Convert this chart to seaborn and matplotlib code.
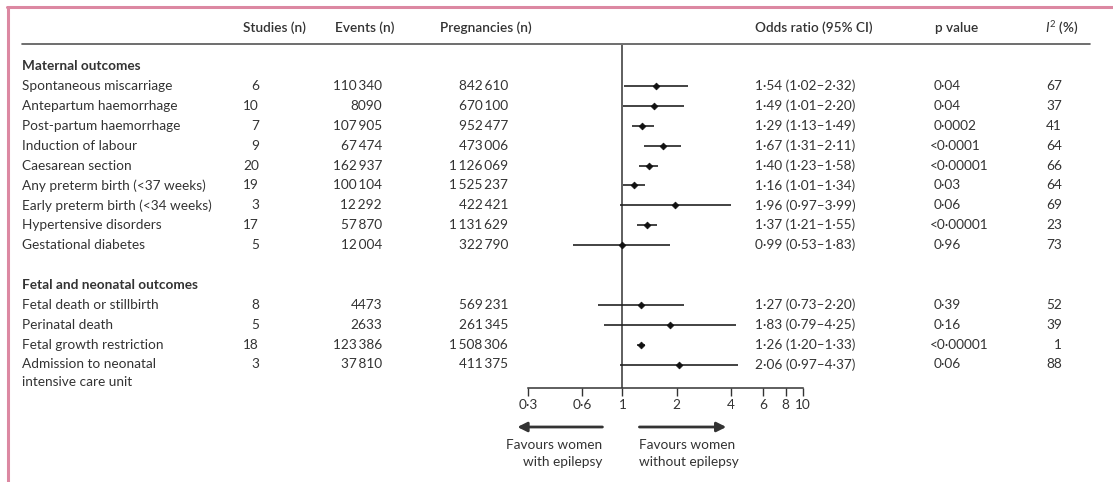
import matplotlib
matplotlib.use('AGG')
import matplotlib.pyplot as plt
from matplotlib.transforms import blended_transform_factory
from matplotlib.ticker import NullLocator
from matplotlib.lines import Line2D
import seaborn as sns
from pandas import DataFrame

# data
maternal = ['Spontaneous miscarriage', 'Antepartum haemorrhage', 'Post-partum haemorrhage',
            'Induction of labour', 'Caesarean section', 'Any preterm birth (<37 weeks)',
            'Early preterm birth (<34 weeks)', 'Hypertensive disorders', 'Gestational diabetes']
fetal = ['Fetal death or stillbirth', 'Perinatal death', 'Fetal growth restriction',
         'Admission to neonatal\nintensive care unit']
studies = [6, 10, 7, 9, 20, 19, 3, 17, 5, 8, 5, 18, 3]
events = [110340, 8090, 107905, 67474, 162937, 100104, 12292, 57870, 12004, 4473, 2633, 123386, 37810]
pregnancies = [842610, 670100, 952477, 473006, 1126069, 1525237, 422421, 1131629, 322790,
               569231, 261345, 1508306, 411375]
odds = [1.54, 1.49, 1.29, 1.67, 1.40, 1.16, 1.96, 1.37, 0.99, 1.27, 1.83, 1.26, 2.06]
ci_low = [1.02, 1.01, 1.13, 1.31, 1.23, 1.01, 0.97, 1.21, 0.53, 0.73, 0.79, 1.20, 0.97]
ci_high = [2.32, 2.20, 1.49, 2.11, 1.58, 1.34, 3.99, 1.55, 1.83, 2.20, 4.25, 1.33, 4.37]
p_values = ['0.04', '0.04', '0.0002', '<0.0001', '<0.00001', '0.03', '0.06', '<0.00001', '0.96',
            '0.39', '0.16', '<0.00001', '0.06']
i2 = [67, 37, 41, 64, 66, 64, 69, 23, 73, 52, 39, 1, 88]
ticks = [0.3, 0.6, 1, 2, 4, 6, 8, 10]

sns.set_theme(style='white')
plt.rcParams['font.family'] = ['Lato', 'DejaVu Sans']
plt.rcParams['mathtext.fontset'] = 'custom'
plt.rcParams['mathtext.it'] = 'Lato:italic'
plt.rcParams['mathtext.rm'] = 'Lato'

W, H = 1113, 482
ROW = 19.9
def ry(px):
    return (px - 66) / ROW

TXT = '#333333'
FS = 9.8

# row index: heading 0, maternal 1..9, blank, heading 11, fetal 12..
rows = list(range(1, 1 + len(maternal))) + list(range(12, 12 + len(fetal)))
datos = DataFrame({'outcome': maternal + fetal, 'row': rows, 'OR': odds,
                   'low': ci_low, 'high': ci_high})

fig = plt.figure(figsize=(W / 100, H / 100), dpi=100)
ax = fig.add_axes([528 / W, 0, 275 / W, 1])
ax.patch.set_visible(False)
ax.set_xscale('log')
ax.set_xlim(0.3, 10)
ax.set_ylim(ry(H), ry(0))

ax.hlines(datos['row'], datos['low'], datos['high'], color='#222222', lw=1.2, zorder=2)
sns.scatterplot(data=datos, x='OR', y='row', marker='D', s=12, color='#111111',
                edgecolor='#111111', linewidth=0.5, ax=ax, zorder=3, legend=False)
ax.vlines(1, ry(45), ry(388), color='#333333', lw=1.1, zorder=1)

for s in ['left', 'right', 'top']:
    ax.spines[s].set_visible(False)
ax.spines['bottom'].set_position(('data', ry(388)))
ax.spines['bottom'].set_bounds(0.3, 10)
ax.spines['bottom'].set_color('#333333')
ax.spines['bottom'].set_linewidth(1.1)
ax.set_xticks(ticks)
ax.set_xticklabels([str(t).replace('.', '·') for t in ticks])
ax.xaxis.set_minor_locator(NullLocator())
ax.tick_params(axis='x', direction='out', length=6, width=1.0, color='#333333',
               pad=2, labelsize=FS, labelcolor=TXT, bottom=True)
ax.set_yticks([])
ax.set_xlabel('')
ax.set_ylabel('')

tr = blended_transform_factory(fig.transFigure, ax.transData)
def put(xpx, y, s, ha='left', **kw):
    ax.text(xpx / W, y, s, ha=ha, va='center', transform=tr, fontsize=FS,
            color=TXT, clip_on=False, **kw)

def num(n):
    return f'{n:,}'.replace(',', '\u2009') if n >= 10000 else str(n)

def dot(v):
    return f'{v:.2f}'.replace('.', '·')

# header
hy = ry(28)
put(243, hy, 'Studies (n)', weight='semibold')
put(335, hy, 'Events (n)', weight='semibold')
put(440, hy, 'Pregnancies (n)', weight='semibold')
put(755, hy, 'Odds ratio (95% CI)', weight='semibold')
put(935, hy, 'p value', weight='semibold')
put(1045, hy, r'$I^2$ (%)', weight='semibold')
ax.add_line(Line2D([22 / W, 1090 / W], [ry(44), ry(44)], transform=tr, color='#555555',
                   lw=1.2, clip_on=False))

put(22, 0, 'Maternal outcomes', weight='bold')
put(22, 11, 'Fetal and neonatal outcomes', weight='bold')

for i, r in enumerate(rows):
    lines = datos['outcome'][i].split('\n')
    for k, line in enumerate(lines):
        put(22, r + k * 0.9, line)
    put(259, r, str(studies[i]), ha='right')
    put(382, r, num(events[i]), ha='right')
    put(508, r, num(pregnancies[i]), ha='right')
    put(755, r, f'{dot(odds[i])} ({dot(ci_low[i])}–{dot(ci_high[i])})')
    pv = p_values[i].replace('.', '·')
    put(930 if pv.startswith('<') else 934, r, pv)
    put(1062, r, str(i2[i]), ha='right')

# favours arrows
ay = ry(427)
ax.annotate('', xy=(0.262, ay), xytext=(0.775, ay), annotation_clip=False,
            arrowprops=dict(arrowstyle='-|>', lw=2, color='#333333', mutation_scale=14,
                            shrinkA=0, shrinkB=0))
ax.annotate('', xy=(3.76, ay), xytext=(1.242, ay), annotation_clip=False,
            arrowprops=dict(arrowstyle='-|>', lw=2, color='#333333', mutation_scale=14,
                            shrinkA=0, shrinkB=0))
ax.text(0.775, ry(439), 'Favours women\nwith epilepsy', ha='right', va='top',
        multialignment='right', fontsize=FS, color=TXT, linespacing=1.5, clip_on=False)
ax.text(1.242, ry(439), 'Favours women\nwithout epilepsy', ha='left', va='top',
        multialignment='left', fontsize=FS, color=TXT, linespacing=1.5, clip_on=False)

# page frame
pink = '#dc88a2'
fig.add_artist(Line2D([7 / W, 1], [1 - 7 / H, 1 - 7 / H], color=pink, lw=2.2))
fig.add_artist(Line2D([8 / W, 8 / W], [0, 1 - 7 / H], color=pink, lw=2.2))

plt.savefig('out.png', dpi=100)
plt.close()
